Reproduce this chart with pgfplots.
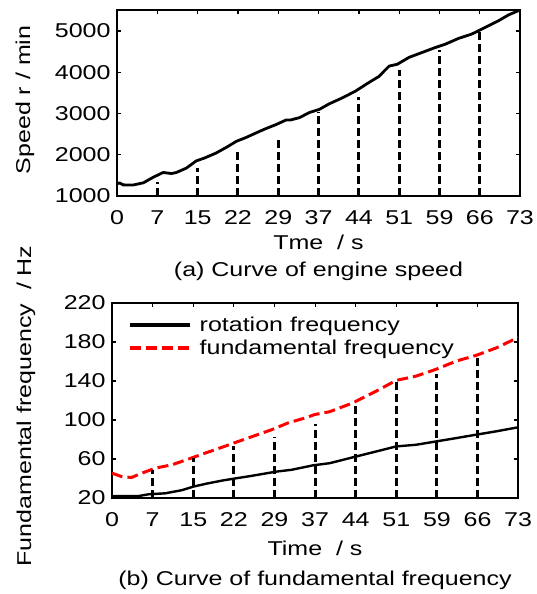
\documentclass[border=0pt]{standalone}
\usepackage{fontspec}
\setmainfont{Liberation Sans}[FakeStretch=1.25]
\usepackage{pgfplots}
\pgfplotsset{compat=1.18}
\begin{document}
\begin{tikzpicture}
\path[use as bounding box] (0pt,0pt) rectangle (537pt,594pt);
\pgfplotsset{
  every axis/.append style={
    scale only axis,
    anchor=south west,
    font=\fontsize{20}{24}\selectfont,
    tick label style={font=\fontsize{20}{24}\selectfont},
    /pgf/number format/assume math mode=true,
    axis line style={line width=1.4pt},
    major tick length=4pt,
    every tick/.style={black, line width=1.2pt},
    xmin=0, xmax=73.3,
    xtick={0,7.33,14.67,22,29.33,36.67,44,51.33,58.67,66,73.3},
    xticklabels={0,7,15,22,29,37,44,51,59,66,73},
    xticklabel style={anchor=base, yshift=-29pt},
    yticklabel style={xshift=-3pt},
    clip mode=individual,
    scaled y ticks=false,
    /pgf/number format/1000 sep={},
  }
}
% (a) engine speed
\begin{axis}[name=top, at={(117pt,398pt)}, width=403pt, height=186pt,
  ymin=1000, ymax=5510, ytick={1000,2000,3000,4000,5000},
  ylabel={Speed r / min},
  ylabel style={at={(axis description cs:0,0.5)}, anchor=center, yshift=92pt, xshift=3pt},
  xlabel={Tme\ \ / s},
  xlabel style={at={(axis description cs:0.5,0)}, anchor=base, yshift=-54pt},
]
\addplot[black, line width=2.8pt] coordinates {
(0,1300) (0.5,1315) (1.1,1270) (2.9,1265) (4.8,1320) (6.6,1455) (8.4,1570)
(9.9,1545) (10.8,1570) (12.6,1675) (14.4,1850) (15.9,1920) (18.0,2040)
(19.9,2180) (21.7,2325) (23.5,2420) (25.3,2530) (27.1,2635) (28.9,2730)
(30.7,2840) (31.6,2845) (33.2,2900) (35.0,3025) (36.8,3100) (38.6,3235)
(41.0,3380) (43.4,3545) (45.8,3750) (47.6,3895) (49.5,4150) (51.0,4195)
(53.1,4360) (55.5,4480) (57.9,4600) (59.7,4680) (62.1,4820) (64.5,4925)
(67.0,5090) (69.4,5250) (71.2,5390) (73.3,5510)
};
\addplot[ycomb, black, line width=3pt, dash pattern=on 8pt off 4pt] coordinates {
(7.33,1330) (14.67,1680) (22,2080) (29.33,2450) (36.67,3040)
(44,3410) (51.33,4050) (58.67,4540) (66,4970)
};
\node[anchor=base] at (axis description cs:0.5,0) [yshift=-81pt] {(a) Curve of engine speed};
\end{axis}
% (b) fundamental frequency
\begin{axis}[name=bot, at={(112pt,96pt)}, width=406pt, height=195pt,
  ymin=20, ymax=220, ytick={20,60,100,140,180,220},
  ylabel={Fundamental frequency\ \ / Hz},
  ylabel style={at={(axis description cs:0,0.5)}, anchor=center, yshift=86pt, xshift=-5.5pt},
  xlabel={Time\ \ / s},
  xlabel style={at={(axis description cs:0.5,0)}, anchor=base, yshift=-57pt},
  legend style={draw=none, fill=none, at={(axis description cs:0,1)}, anchor=north west,
    xshift=16pt, yshift=-13pt, inner sep=0pt, row sep=5pt,
    nodes={inner sep=1pt, anchor=west}, font=\fontsize{20}{24}\selectfont,
    /tikz/every odd column/.append style={column sep=6pt}},
  legend cell align=left,
  legend image code/.code={\draw[#1, line width=4.5pt] (0pt,0pt) -- (60pt,0pt);},
]
\addplot[black, line width=2.4pt] coordinates {
(0,22) (4.8,22) (6.6,23.8) (9.6,24.8) (12.6,28) (14.7,31.7) (16.8,34.4)
(19.8,37.8) (22.5,40.3) (25.2,42.7) (29.7,47.1) (32.4,48.9) (36.3,53.5)
(39.3,55.7) (44.1,62.6) (47.7,67.7) (51.3,72.9) (54.9,74.6) (58.5,78)
(62.2,81.5) (65.8,85) (69.4,88.4) (73.3,92.5)
};
\addlegendentry{rotation frequency}
\addplot[red, line width=3pt, dash pattern=on 11pt off 5pt] coordinates {
(0,45.5) (1.7,42) (3.5,41) (5.4,45.5) (7.8,50.6) (10.8,54) (13.8,59.9)
(16.8,66) (19.8,71.9) (22.8,78) (25.8,84) (28.8,90) (31.8,97) (34.8,102)
(36.6,105.6) (39.3,108.5) (43.5,117.6) (47.7,129.6) (51.3,140.6) (54.9,145)
(58.5,152) (62.2,160.5) (65.8,166.4) (69.4,174) (73.3,184.6)
};
\addlegendentry{fundamental frequency}
\addplot[ycomb, black, line width=3pt, dash pattern=on 8pt off 4pt, forget plot] coordinates {
(7.33,49) (14.67,61) (22,73) (29.33,83) (36.67,96)
(44,117.6) (51.33,140) (58.67,147) (66,164)
};
\node[anchor=base] at (axis description cs:0.5,0) [yshift=-87pt] {(b) Curve of fundamental frequency};
\end{axis}
\end{tikzpicture}
\end{document}
